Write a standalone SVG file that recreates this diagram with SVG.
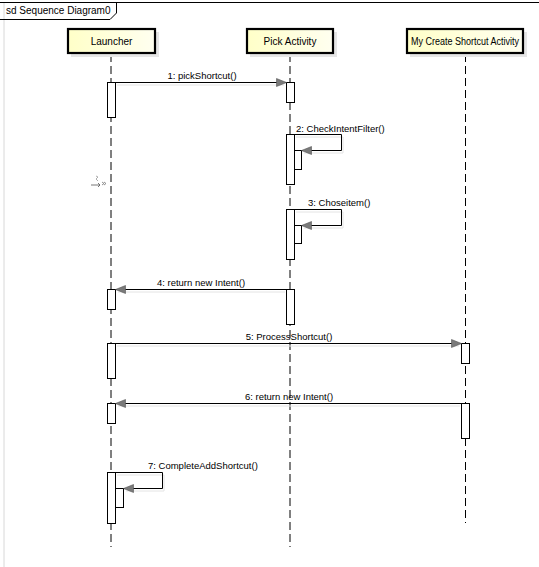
<svg xmlns="http://www.w3.org/2000/svg" width="539" height="567" viewBox="0 0 539 567">
<defs>
<linearGradient id="hg" x1="0" y1="0" x2="1" y2="0">
<stop offset="0" stop-color="#ffffc8"/>
<stop offset="1" stop-color="#fffff0"/>
</linearGradient>
<marker id="ah" markerWidth="12" markerHeight="10" refX="11" refY="5" orient="auto" markerUnits="userSpaceOnUse">
<path d="M1,1 L11,5 L1,9 Z" fill="#7a7a7a" stroke="#555" stroke-width="0.6"/>
</marker>
</defs>
<style>
text{font-family:"Liberation Sans",Arial,sans-serif;font-size:9.5px;fill:#000}
.head{fill:url(#hg);stroke:#000;stroke-width:2.2}
.shadow{fill:#e6e6e6;stroke:none}
.life{stroke:#000;stroke-width:1;stroke-dasharray:8,4;fill:none}
.act{fill:#fff;stroke:#000;stroke-width:1}
.msg{stroke:#000;stroke-width:1;fill:none;marker-end:url(#ah)}
.msgs{stroke:#e4e4e4;stroke-width:1;fill:none}
</style>
<rect width="539" height="567" fill="#fff"/>
<g id="frame">
<line x1="4" y1="2" x2="4" y2="567" stroke="#d8d8d8" stroke-width="1"/>
<line x1="0" y1="2.5" x2="539" y2="2.5" stroke="#000" stroke-width="1"/>
<path d="M0,19.5 L110,19.5 L116.5,13 L116.5,2.5" fill="none" stroke="#000" stroke-width="1"/>
<text x="6" y="14" style="font-size:10px">sd Sequence Diagram0</text>
</g>
<g id="lifelines">
<line class="life" x1="111" y1="54" x2="111" y2="547"/>
<line class="life" x1="290" y1="54" x2="290" y2="547"/>
<line class="life" x1="465.5" y1="54" x2="465.5" y2="523"/>
</g>
<g id="launcher">
<rect class="shadow" x="71" y="32" width="88" height="25"/>
<rect class="head" x="68" y="29" width="87" height="24"/>
<text x="111.5" y="44.5" text-anchor="middle" style="font-size:10px">Launcher</text>
</g>
<g id="pickactivity">
<rect class="shadow" x="250" y="32" width="87" height="25"/>
<rect class="head" x="247" y="29" width="86" height="24"/>
<text x="290" y="44.5" text-anchor="middle" style="font-size:10px">Pick Activity</text>
</g>
<g id="mycreateshortcutactivity">
<rect class="shadow" x="410" y="32" width="117" height="25"/>
<rect class="head" x="407" y="29" width="116" height="24"/>
<text x="465" y="44.5" text-anchor="middle" style="font-size:10px" textLength="108" lengthAdjust="spacingAndGlyphs">My Create Shortcut Activity</text>
</g>
<g id="activations">
<rect class="act" x="107.5" y="82.5" width="8" height="35"/>
<rect class="act" x="286.5" y="82.5" width="8" height="20"/>
<rect class="act" x="286.5" y="134.5" width="8" height="50"/>
<rect class="act" x="294.5" y="150.5" width="7" height="19"/>
<rect class="act" x="286.5" y="209.5" width="8" height="50"/>
<rect class="act" x="294.5" y="225.5" width="7" height="18"/>
<rect class="act" x="286.5" y="289.5" width="8" height="35"/>
<rect class="act" x="107.5" y="289.5" width="8" height="20"/>
<rect class="act" x="107.5" y="343.5" width="8" height="35"/>
<rect class="act" x="461.5" y="343.5" width="8" height="20"/>
<rect class="act" x="107.5" y="403.5" width="8" height="20"/>
<rect class="act" x="461.5" y="403.5" width="8" height="35"/>
<rect class="act" x="107.5" y="472.5" width="8" height="51"/>
<rect class="act" x="115.5" y="488.5" width="8" height="19"/>
</g>
<g id="connectors">
<line class="msgs" x1="117" y1="85" x2="284" y2="85"/>
<line class="msg" x1="115.5" y1="82.5" x2="286.5" y2="82.5"/>
<path class="msgs" d="M296,137 L343,137 L343,153 L304,153"/>
<path class="msg" d="M294.5,134.5 L341.5,134.5 L341.5,150.5 L301.5,150.5"/>
<path class="msgs" d="M296,212 L343,212 L343,228 L304,228"/>
<path class="msg" d="M294.5,209.5 L341.5,209.5 L341.5,225.5 L301.5,225.5"/>
<line class="msgs" x1="118" y1="292" x2="285" y2="292"/>
<line class="msg" x1="286.5" y1="289.5" x2="115.5" y2="289.5"/>
<line class="msgs" x1="117" y1="346" x2="459" y2="346"/>
<line class="msg" x1="115.5" y1="343.5" x2="461.5" y2="343.5"/>
<line class="msgs" x1="118" y1="406" x2="460" y2="406"/>
<line class="msg" x1="461.5" y1="403.5" x2="115.5" y2="403.5"/>
<path class="msgs" d="M117,475 L164,475 L164,491 L126,491"/>
<path class="msg" d="M115.5,472.5 L162.5,472.5 L162.5,488.5 L123.5,488.5"/>
</g>
<g id="labels">
<text x="202" y="79" text-anchor="middle">1: pickShortcut()</text>
<text x="296" y="132">2:  CheckIntentFilter()</text>
<text x="308" y="206">3:  Choseitem()</text>
<text x="201" y="286" text-anchor="middle">4: return new Intent()</text>
<text x="289" y="340" text-anchor="middle">5: ProcessShortcut()</text>
<text x="289" y="400" text-anchor="middle">6: return new Intent()</text>
<text x="148" y="469">7:  CompleteAddShortcut()</text>
</g>
<g id="icon" stroke="#555" stroke-width="0.8" fill="none">
<path d="M91,185 L100,185 M98,183 L100,185 L98,187"/>
<path d="M96,176 L98,177 L96,179 L98,181" stroke="#999"/>
<path d="M102,182 L104,183.5 L102,185 M104,182 L106,183.5 L104,185" stroke="#777"/>
</g>
</svg>
